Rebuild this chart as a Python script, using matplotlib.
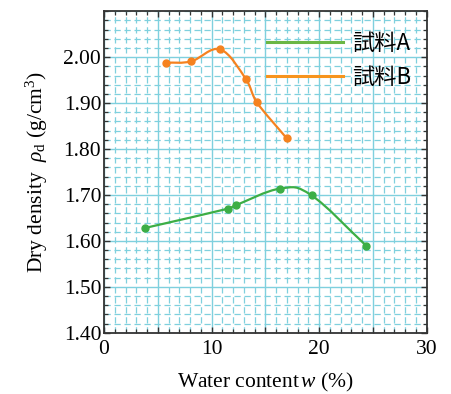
import matplotlib
matplotlib.use("Agg")
import matplotlib.pyplot as plt
from matplotlib.path import Path
from matplotlib.patches import PathPatch
from matplotlib.lines import Line2D
from matplotlib.ticker import MultipleLocator, FuncFormatter
import numpy as np

# data
w_a = [3.8, 11.5, 12.3, 16.4, 19.3, 24.4]
rho_a = [1.628, 1.670, 1.678, 1.714, 1.699, 1.589]
w_b = [5.8, 8.1, 10.8, 13.2, 14.2, 17.0]
rho_b = [1.988, 1.991, 2.017, 1.952, 1.902, 1.823]
labels = ["試料A", "試料B"]

GREEN = "#3cae45"
ORANGE = "#f5821f"
LEG_GREEN = "#6cb744"
LEG_ORANGE = "#f7941d"
GRID = "#7fd0de"

plt.rcParams["mathtext.fontset"] = "custom"
plt.rcParams["mathtext.rm"] = "Liberation Serif"
plt.rcParams["mathtext.it"] = "Liberation Serif:italic"


def smooth_path(xs, ys, k=5.5):
    # catmull-rom style bezier through the points, control offsets kept inside each segment
    pts = np.column_stack([xs, ys]).astype(float)
    n = len(pts)
    verts = [pts[0]]
    codes = [Path.MOVETO]
    for i in range(n - 1):
        p1, p2 = pts[i], pts[i + 1]
        h = p2[0] - p1[0]
        t1 = (p2 - pts[i - 1]) / k if i > 0 else (p2 - p1) / 3
        t2 = (pts[i + 2] - p1) / k if i < n - 2 else (p2 - p1) / 3
        lim = h / 2
        if t1[0] > lim:
            t1 = t1 * lim / t1[0]
        if t2[0] > lim:
            t2 = t2 * lim / t2[0]
        verts += [p1 + t1, p2 - t2, p2]
        codes += [Path.CURVE4] * 3
    return Path(verts, codes)


fig = plt.figure(figsize=(4.51, 3.94), dpi=100)
ax = fig.add_axes([0.2306, 0.1556, 0.7155, 0.8157])

for xs, ys, c in [(w_a, rho_a, GREEN), (w_b, rho_b, ORANGE)]:
    ax.add_patch(PathPatch(smooth_path(xs, ys), facecolor="none", edgecolor=c, lw=1.6, zorder=3))
    ax.plot(xs, ys, "o", color=c, ms=5, zorder=4)

ax.set_xlim(0, 30)
ax.set_ylim(1.40, 2.10)

ax.xaxis.set_major_locator(MultipleLocator(5))
ax.xaxis.set_minor_locator(MultipleLocator(1))
ax.xaxis.set_major_formatter(FuncFormatter(lambda v, p: f"{v:.0f}" if round(v) % 10 == 0 else ""))
ax.set_yticks(np.arange(1.40, 2.01, 0.10))
ax.yaxis.set_minor_locator(MultipleLocator(0.02))
ax.yaxis.set_major_formatter(FuncFormatter(lambda v, p: f"{v:.2f}"))

ax.grid(which="major", color=GRID, lw=1.0, ls="-")
ax.grid(which="minor", color=GRID, lw=0.9, ls=(0, (5, 3)))
ax.set_axisbelow(True)

ax.tick_params(which="both", direction="in", top=True, right=True, color="#333333")
ax.tick_params(which="major", length=4.5, width=1.0)
ax.tick_params(which="minor", length=3, width=0.9)
for lab in ax.get_xticklabels() + ax.get_yticklabels():
    lab.set_fontfamily("Liberation Serif")
    lab.set_fontsize(15.5)
ax.tick_params(axis="x", pad=5)
ax.tick_params(axis="y", pad=2)
for s in ax.spines.values():
    s.set_color("#333333")
    s.set_linewidth(1.3)

ax.set_xlabel(r"Water content$\,w$ (%)", fontfamily="Liberation Serif", fontsize=15.5, labelpad=9)
ax.set_ylabel(r"Dry density  $\rho_{\mathrm{d}}$ (g/cm$^{3}$)", fontfamily="Liberation Serif",
              fontsize=15.5, labelpad=10)

handles = [Line2D([], [], color=LEG_GREEN, lw=2.2), Line2D([], [], color=LEG_ORANGE, lw=2.2)]
ax.legend(handles, labels, loc="upper left", bbox_to_anchor=(0.504, 0.936), frameon=False,
          borderpad=0, borderaxespad=0, handlelength=3.45, handletextpad=0.42, labelspacing=0.5,
          prop={"family": ["Noto Sans CJK JP", "DejaVu Sans"], "size": 16})

fig.savefig("out.png", dpi=100)
